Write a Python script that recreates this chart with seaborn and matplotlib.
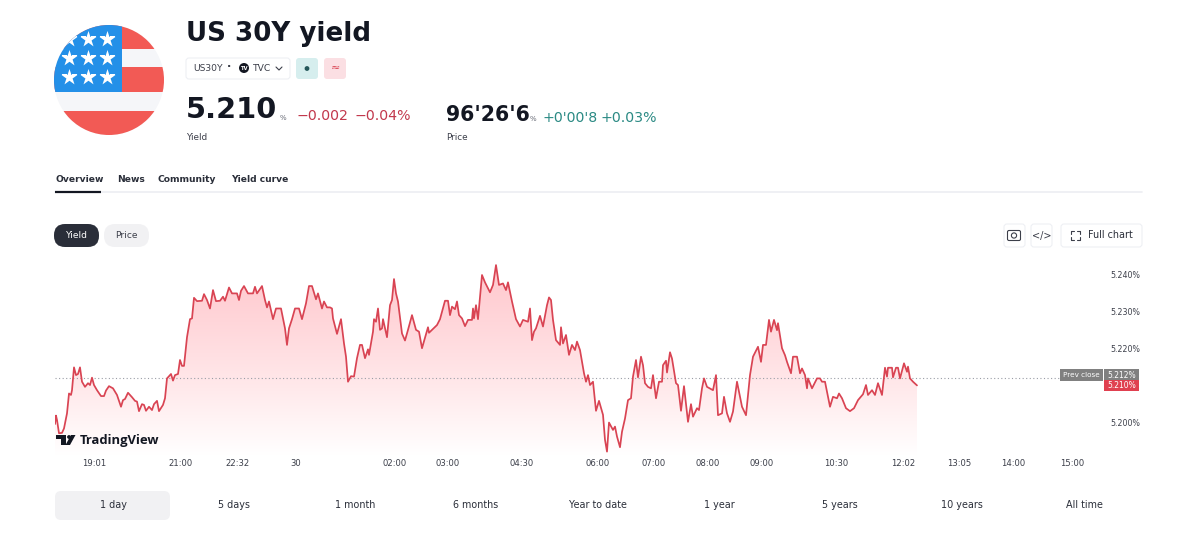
import numpy as np
import pandas as pd
import matplotlib
matplotlib.use("Agg")
import matplotlib.pyplot as plt
import seaborn as sns
from matplotlib.colors import LinearSegmentedColormap
from matplotlib.patches import Circle, FancyBboxPatch, Polygon, Rectangle

# Session bars since the open, and the yield (%) at each of them
bars = [0,1,2,4,7,9,12,14,16,17,19,21,23,25,27,30,33,35,37,39,42,46,49,51,54,58,62,64,66,68,70,73,77,80,82,84,87,89,91,94,97,99,102,104,108,110,112,116,118,120,123,125,127,129,132,135,137,139,142,147,149,152,155,158,161,165,168,170,174,177,182,184,186,189,193,198,200,202,207,210,212,214,218,221,226,228,230,232,234,237,240,244,247,251,254,257,261,263,267,269,272,
        275,277,278,282,286,289,291,293,296,299,302,305,307,310,313,314,318,319,321,323,325,327,328,332,335,337,339,341,343,347,350,353,357,361,364,367,373,374,382,385,390,393,395,397,400,402,404,407,410,413,417,418,419,421,423,427,430,435,438,441,444,448,451,453,457,461,465,468,473,475,477,479,481,485,488,492,494,496,498,501,505,506,508,511,514,517,520,522,525,529,531,533,535,538,541,544,548,550,552,554,558,560,562,565,
        567,570,573,576,578,581,583,586,588,590,593,596,598,601,604,607,608,611,612,615,617,621,623,626,629,633,636,638,642,644,647,649,652,658,661,663,667,669,672,675,678,682,687,691,695,698,703,706,708,711,714,716,719,722,723,727,730,732,736,738,742,745,747,750,752,753,757,762,765,767,770,775,778,782,784,787,791,795,799,803,808,811,813,817,820,823,827,830,832,833,837,838,841,843,845,849,852,853,855,858,862]
yields = [5.1995,5.2018,5.2006,5.1970,5.1971,5.1983,5.2024,5.2078,5.2074,5.2087,5.2149,5.2128,5.2131,5.2149,5.2110,5.2096,5.2106,5.2101,5.2121,5.2101,5.2087,5.2071,5.2071,5.2086,5.2098,5.2092,5.2074,5.2058,5.2042,5.2060,5.2063,5.2080,5.2068,5.2058,5.2056,5.2030,5.2049,5.2047,5.2031,5.2042,5.2033,5.2049,5.2058,5.2030,5.2047,5.2065,5.2119,5.2131,5.2113,5.2128,5.2131,5.2169,5.2153,5.2153,5.2231,5.2280,5.2282,5.2338,5.2329,5.2330,5.2348,5.2332,5.2309,5.2359,5.2329,5.2330,5.2341,5.2330,5.2366,5.2350,5.2350,5.2332,5.2357,5.2370,5.2350,5.2350,5.2368,5.2350,5.2370,5.2332,5.2312,5.2328,5.2280,5.2309,5.2309,5.2282,5.2255,5.2210,5.2255,5.2280,5.2309,5.2309,5.2280,5.2323,5.2370,5.2370,5.2334,5.2350,5.2309,5.2328,5.2312,
          5.2312,5.2309,5.2282,5.2240,5.2280,5.2214,5.2178,5.2110,5.2125,5.2124,5.2174,5.2210,5.2210,5.2174,5.2198,5.2183,5.2246,5.2280,5.2273,5.2309,5.2251,5.2255,5.2280,5.2231,5.2318,5.2332,5.2389,5.2350,5.2328,5.2241,5.2222,5.2251,5.2291,5.2251,5.2246,5.2201,5.2258,5.2243,5.2264,5.2280,5.2330,5.2330,5.2291,5.2314,5.2307,5.2328,5.2291,5.2282,5.2261,5.2278,5.2278,5.2309,5.2282,5.2318,5.2280,5.2400,5.2380,5.2353,5.2373,5.2427,5.2373,5.2377,5.2359,5.2380,5.2328,5.2280,5.2260,5.2278,5.2273,5.2309,5.2223,5.2246,5.2255,5.2289,5.2260,5.2318,5.2339,5.2332,5.2278,5.2223,5.2210,5.2258,5.2214,5.2237,5.2183,5.2210,5.2196,5.2219,5.2196,5.2133,5.2110,5.2128,5.2101,5.2110,5.2031,5.2058,5.2020,5.1952,5.1920,5.1999,5.1979,5.1988,5.1961,5.1932,
          5.1974,5.2010,5.2060,5.2065,5.2124,5.2169,5.2122,5.2178,5.2155,5.2106,5.2096,5.2092,5.2128,5.2065,5.2110,5.2110,5.2155,5.2167,5.2135,5.2190,5.2173,5.2106,5.2101,5.2031,5.2098,5.2001,5.2049,5.2015,5.2038,5.2033,5.2092,5.2119,5.2096,5.2087,5.2128,5.2019,5.2024,5.2069,5.2024,5.2001,5.2029,5.2110,5.2042,5.2019,5.2128,5.2178,5.2205,5.2164,5.2210,5.2210,5.2278,5.2246,5.2278,5.2250,5.2269,5.2201,5.2182,5.2164,5.2133,5.2178,5.2178,5.2133,5.2146,5.2128,5.2092,5.2119,5.2092,5.2119,5.2119,5.2110,5.2110,5.2042,5.2069,5.2065,5.2078,5.2065,5.2038,5.2030,5.2038,5.2060,5.2076,5.2101,5.2074,5.2087,5.2074,5.2106,5.2074,5.2148,5.2124,5.2148,5.2148,5.2122,5.2148,5.2148,5.2119,5.2160,5.2137,5.2151,5.2119,5.2110,5.2100]

x_tick_bars = [39, 126, 183, 241, 340, 393, 467, 543, 599, 653, 707, 781, 848, 904, 958, 1017]
x_tick_labels = ["19:01", "21:00", "22:32", "30", "02:00", "03:00", "04:30", "06:00", "07:00",
                 "08:00", "09:00", "10:30", "12:02", "13:05", "14:00", "15:00"]
y_ticks = [5.20, 5.22, 5.23, 5.24]
prev_close = 5.212
last_yield = 5.210
periods = ["1 day", "5 days", "1 month", "6 months", "Year to date", "1 year", "5 years", "10 years", "All time"]
tabs = ["Overview", "News", "Community", "Yield curve"]

W, H = 1200, 539
RED = "#d94453"
INK = "#131722"
GREY = "#6a6d78"
PANEL = "#f1f1f3"

sns.set_theme(style="white")
plt.rcParams["font.family"] = ["DejaVu Sans"]
fig = plt.figure(figsize=(W / 100, H / 100), dpi=100, facecolor="white")


def px_rect(x0, y0, x1, y1):
    return [x0 / W, 1 - y1 / H, (x1 - x0) / W, (y1 - y0) / H]


# Price chart: one bar per pixel, 36.8 pixels for 0.01 of yield
ax = fig.add_axes(px_rect(55, 255, 1105, 455))
ax.patch.set_alpha(0)
ax.set_xlim(0, 1050)
ax.set_ylim(5.24 - (455 - 275) / 3680, 5.24 + 20 / 3680)
frame = pd.DataFrame({"bar": bars, "yield": yields})

# Red wash below the line, fading to white at the bottom
wash = LinearSegmentedColormap.from_list("wash", ["#ffc4ca", "#ffd6da", "#ffe9eb", "#ffffff"])
grad = np.linspace(0, 1, 256).reshape(-1, 1)
img = ax.imshow(grad, cmap=wash, aspect="auto", zorder=1,
                extent=[0, 1050, ax.get_ylim()[0], ax.get_ylim()[1]])
area = ax.fill_between(frame["bar"], frame["yield"], ax.get_ylim()[0], facecolor="none", edgecolor="none")
img.set_clip_path(area.get_paths()[0], transform=ax.transData)
ax.set_xlim(0, 1050)

ax.axhline(prev_close, color="#9a9da6", lw=0.8, ls=(0, (1, 2.2)), xmax=1005 / 1050, zorder=2)
sns.lineplot(data=frame, x="bar", y="yield", estimator=None, sort=False, color=RED, lw=1.25, ax=ax, zorder=3)

sns.despine(ax=ax, left=True, bottom=True, right=True, top=True)
ax.set_xlabel("")
ax.set_ylabel("")
ax.set_xticks(x_tick_bars, x_tick_labels)
ax.yaxis.tick_right()
ax.set_yticks(y_ticks, [f"{t:.3f}%" for t in y_ticks])
ax.tick_params(axis="x", length=0, pad=3, labelsize=6.1, labelcolor="#3c3f4a")
ax.tick_params(axis="y", length=0, pad=4, labelsize=5.7, labelcolor="#3c3f4a")

# Page furniture drawn in pixel coordinates on a transparent overlay
ui = fig.add_axes([0, 0, 1, 1], zorder=5)
ui.set_xlim(0, W)
ui.set_ylim(H, 0)
ui.axis("off")
ui.patch.set_alpha(0)


def box(x0, y0, x1, y1, fc, ec="none", r=3, lw=0.8):
    ui.add_patch(FancyBboxPatch((x0 + r, y0 + r), x1 - x0 - 2 * r, y1 - y0 - 2 * r,
                                boxstyle=f"round,pad={r},rounding_size={r}",
                                fc=fc, ec=ec, lw=lw))


def label(x, y, s, size, color=INK, weight="normal", ha="left", va="center", family="DejaVu Sans"):
    return ui.text(x, y, s, fontsize=size, color=color, fontweight=weight, ha=ha, va=va, family=family)


# Flag badge
disc = Circle((109, 80), 55, transform=ui.transData)
flag = [Rectangle((50, 20), 120, 120, fc="#f5f6f9", ec="none"),
        Rectangle((50, 20), 120, 29, fc="#f25a55", ec="none"),
        Rectangle((50, 67), 120, 25, fc="#f25a55", ec="none"),
        Rectangle((50, 111), 120, 30, fc="#f25a55", ec="none"),
        Rectangle((50, 20), 72, 72, fc="#2490e8", ec="none")]
for part in flag:
    ui.add_patch(part)
    part.set_clip_path(disc)
sx, sy = np.meshgrid([69, 88, 107], [39, 58, 77])
stars = ui.scatter(sx.ravel(), sy.ravel(), marker="*", s=150, c="white", linewidths=0, zorder=3)
stars.set_clip_path(disc)

# Heading block
label(186, 34, "US 30Y yield", 18.8, weight="bold")
box(186, 58, 290, 79, "white", "#eef0f4")
label(193, 68.5, "US30Y", 6.6, color="#3c3f4a")
label(229, 67, "·", 8, color="#3c3f4a", ha="center", weight="bold")
ui.add_patch(Circle((244, 68), 5, fc=INK, ec="none"))
label(244, 68.3, "TV", 3.8, color="white", ha="center", weight="bold")
label(253, 68.5, "TVC", 6.6, color="#3c3f4a")
ui.plot([276, 279, 282], [67, 70, 67], color="#3c3f4a", lw=0.8)
box(296, 58, 318, 79, "#d6eeee")
ui.add_patch(Circle((307, 68.5), 2.4, fc="#24575a", ec="none"))
box(324, 58, 346, 79, "#fbdfe3")
label(335, 68, "≈", 8, color=RED, ha="center")

label(186, 110, f"{last_yield:.3f}", 20.8, weight="bold")
label(280, 118, "%", 5, color=GREY)
label(296, 116, "−0.002", 10.2, color="#c2394d")
label(354, 116, "−0.04%", 10.2, color="#c2394d")
label(186, 137, "Yield", 6.4, color="#3c3f4a")

label(446, 115, "96'26'6", 14.8, weight="bold")
label(530, 119, "%", 5, color=GREY)
label(543, 118, "+0'00'8", 10.2, color="#2b8a84")
label(601, 118, "+0.03%", 10.2, color="#2b8a84")
label(446, 137, "Price", 6.4, color="#3c3f4a")

# Section tabs
for x, s in zip([55, 117, 158, 231], tabs):
    label(x, 179, s, 6.6, weight="bold", color="#2a2e39")
ui.plot([55, 1142], [191.5, 191.5], color="#eceef2", lw=1.2)
ui.plot([55, 101], [191.5, 191.5], color=INK, lw=1.6, solid_capstyle="butt")

# Yield / Price switch and chart tools
box(54, 224, 99, 247, "#2a2e39", r=11)
label(76.5, 235.5, "Yield", 6.6, color="white", ha="center")
box(104, 224, 149, 247, PANEL, r=11)
label(126.5, 235.5, "Price", 6.6, color="#3c3f4a", ha="center")
box(1004, 224, 1025, 247, "white", "#eef0f4")
box(1031, 224, 1052, 247, "white", "#eef0f4")
box(1061, 224, 1142, 247, "white", "#eef0f4")
ui.add_patch(FancyBboxPatch((1008, 231), 12, 9, boxstyle="round,pad=0.5,rounding_size=1.5", fc="none", ec="#3c3f4a", lw=0.8))
ui.add_patch(Circle((1014, 235.5), 2.6, fc="none", ec="#3c3f4a", lw=0.8))
label(1041.5, 235.5, "</>", 7, color="#3c3f4a", ha="center")
for cx, cy, dx, dy in [(1071, 231, 1, 1), (1080, 231, -1, 1), (1071, 240, 1, -1), (1080, 240, -1, -1)]:
    ui.plot([cx + 3 * dx, cx, cx], [cy, cy, cy + 3 * dy], color="#3c3f4a", lw=0.8)
label(1088, 235.5, "Full chart", 6.9, color="#2a2e39")

# Watermark
ui.add_patch(Polygon([(56, 435), (66, 435), (66, 445), (61, 445), (61, 439), (56, 439)], fc=INK, ec="none"))
ui.add_patch(Circle((69, 437), 1.9, fc=INK, ec="none"))
ui.add_patch(Polygon([(71, 435), (75.5, 435), (70, 445), (65.5, 445)], fc=INK, ec="none"))
label(80, 440.5, "TradingView", 9.4, weight="bold", color=INK, family="Open Sans")

# Price scale tags
ui.add_patch(Rectangle((1060, 369), 43, 12, fc="#808080", ec="none"))
ui.add_patch(Rectangle((1104, 369), 35, 12, fc="#808080", ec="none"))
ui.add_patch(Rectangle((1104, 380), 35, 11, fc="#e04050", ec="none"))
label(1081.5, 375, "Prev close", 5.2, color="white", ha="center")
label(1121.5, 375, f"{prev_close:.3f}%", 5.5, color="white", ha="center")
label(1121.5, 385.5, f"{last_yield:.3f}%", 5.5, color="white", ha="center")

# Period selector
box(55, 491, 170, 520, PANEL, r=6)
for x, s in zip([113, 234, 355, 476, 598, 719, 840, 962, 1084], periods):
    label(x, 505.5, s, 6.9, color="#2a2e39", ha="center")

fig.savefig("out.png", dpi=100, facecolor="white")
